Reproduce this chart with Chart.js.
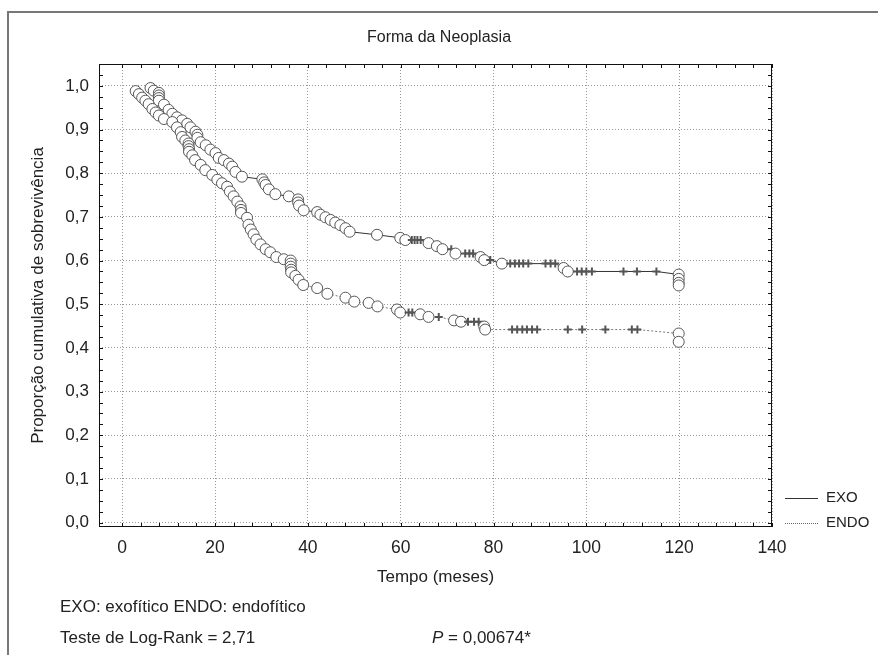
<!DOCTYPE html>
<html>
<head>
<meta charset="utf-8">
<title>Forma da Neoplasia</title>
<script src="https://cdn.jsdelivr.net/npm/chart.js@4.4.1/dist/chart.umd.min.js"></script>
<style>
    html, body { margin: 0; padding: 0; background: #fff; }
    #wrap { position: relative; width: 878px; height: 655px; overflow: hidden; font-family: 'Liberation Sans', Arial, sans-serif; color: #222; }
    #frame { position: absolute; left: 7px; top: 11px; width: 880px; height: 660px; border-left: 2px solid #777; border-top: 2px solid #777; }
    canvas { position: absolute; left: 0; top: 0; }
    #title { position: absolute; left: 0; width: 878px; top: 27px; text-align: center; font-size: 16px; line-height: 20px; }
    .note { position: absolute; left: 60px; font-size: 17px; line-height: 20px; white-space: nowrap; }
    .legend { position: absolute; left: 785px; font-size: 15px; line-height: 18px; white-space: nowrap; }
    .sample { display: inline-block; width: 33px; height: 0; vertical-align: middle; margin-right: 8px; }
</style>
</head>
<body>
<div id="wrap">
    <div id="frame"></div>
    <canvas id="km-chart" width="878" height="655"></canvas>
    <div id="title"></div>
    <div class="legend" style="top:488px"><span class="sample" style="border-top:1px solid #333"></span>EXO</div>
    <div class="legend" style="top:513px"><span class="sample" style="border-top:1px dotted #666"></span>ENDO</div>
    <div class="note" style="top:597px">EXO: exofítico ENDO: endofítico</div>
    <div class="note" style="top:628px">Teste de Log-Rank = 2,71</div>
    <div class="note" style="top:628px; left:432px"><i>P</i> = 0,00674*</div>
</div>
<script>
// chart text
const chartTitle = 'Forma da Neoplasia';
const xTitle = 'Tempo (meses)';
const yTitle = 'Proporção cumulativa de sobrevivência';

// axis ticks
const xTicks = [0, 20, 40, 60, 80, 100, 120, 140];
const yTicks = [0, 0.1, 0.2, 0.3, 0.4, 0.5, 0.6, 0.7, 0.8, 0.9, 1.0];
const xMinorStep = 4;
const yMinorStep = 0.025;

// EXO: time (months), cumulative survival, mark ('o' = event, '+' = censored)
const exoTime = [6.1, 6.8, 7.9, 7.9, 7.9, 7.9, 9.0, 10.0, 10.8, 11.8, 12.9, 14.0, 14.7, 15.8, 16.2, 16.2,
    16.9, 18.0, 19.0, 20.1, 20.8, 21.9, 23.0, 23.7, 24.4, 25.8, 30.2, 30.6, 30.9, 31.6, 33.0, 35.9,
    37.9, 37.9, 38.1, 39.1, 42.0, 42.7, 43.8, 44.9, 45.9, 47.0, 48.1, 49.0, 54.9, 59.9, 61.0,
    62.4, 63.0, 63.6, 64.3, 66.0, 67.8, 69.0, 70.9, 71.8, 73.9, 74.8, 75.6, 77.2, 78.0, 79.3, 81.8,
    83.6, 84.6, 85.5, 86.4, 87.5, 91.2, 92.3, 93.3, 95.1, 96.0, 98.0, 99.0, 100.0, 101.2,
    108.0, 110.9, 115.1, 119.9, 119.9, 119.9, 119.9];
const exoSurv = [0.995, 0.989, 0.984, 0.978, 0.972, 0.966, 0.957, 0.945, 0.936, 0.928, 0.921, 0.913, 0.905, 0.895, 0.888, 0.881,
    0.871, 0.864, 0.854, 0.846, 0.835, 0.830, 0.822, 0.815, 0.803, 0.792, 0.786, 0.779, 0.773, 0.763, 0.752, 0.747,
    0.740, 0.733, 0.726, 0.715, 0.711, 0.705, 0.699, 0.693, 0.687, 0.681, 0.674, 0.666, 0.659, 0.652, 0.647,
    0.647, 0.647, 0.647, 0.647, 0.640, 0.633, 0.626, 0.626, 0.616, 0.616, 0.616, 0.616, 0.608, 0.601, 0.601, 0.593,
    0.593, 0.593, 0.593, 0.593, 0.593, 0.593, 0.593, 0.593, 0.583, 0.575, 0.575, 0.575, 0.575, 0.575,
    0.575, 0.575, 0.575, 0.568, 0.558, 0.549, 0.543];
const exoMark = ['o', 'o', 'o', 'o', 'o', 'o', 'o', 'o', 'o', 'o', 'o', 'o', 'o', 'o', 'o', 'o',
    'o', 'o', 'o', 'o', 'o', 'o', 'o', 'o', 'o', 'o', 'o', 'o', 'o', 'o', 'o', 'o',
    'o', 'o', 'o', 'o', 'o', 'o', 'o', 'o', 'o', 'o', 'o', 'o', 'o', 'o', 'o',
    '+', '+', '+', '+', 'o', 'o', 'o', '+', 'o', '+', '+', '+', 'o', 'o', '+', 'o',
    '+', '+', '+', '+', '+', '+', '+', '+', 'o', 'o', '+', '+', '+', '+',
    '+', '+', '+', 'o', 'o', 'o', 'o'];

// ENDO
const endoTime = [2.9, 3.6, 4.3, 5.0, 5.7, 6.5, 7.2, 7.9, 9.0, 10.8, 11.8, 12.6, 12.9, 13.6, 14.3, 14.3, 14.4, 14.4,
    15.1, 15.7, 16.9, 17.9, 19.4, 20.5, 21.5, 22.6, 23.2, 24.0, 24.8, 25.5, 25.6, 25.6, 26.9,
    27.2, 27.7, 28.3, 28.9, 29.8, 30.9, 31.9, 33.2, 34.8, 36.3, 36.3, 36.3, 36.4, 36.4, 37.3, 38.0, 39.0,
    42.0, 44.2, 48.1, 50.0, 53.1, 55.0, 59.2, 59.9, 61.7, 62.5, 64.2, 66.0, 68.2, 71.5, 73.0,
    74.5, 75.8, 76.8, 78.0, 78.2, 84.0, 85.1, 86.2, 87.2, 88.3, 89.4, 96.0, 99.1, 104.1, 109.8, 111.0,
    119.9, 119.9];
const endoSurv = [0.988, 0.981, 0.973, 0.966, 0.958, 0.947, 0.939, 0.932, 0.924, 0.917, 0.905, 0.894, 0.883, 0.875, 0.868, 0.862, 0.855, 0.849,
    0.841, 0.830, 0.819, 0.807, 0.796, 0.785, 0.777, 0.769, 0.758, 0.747, 0.735, 0.724, 0.716, 0.709, 0.698,
    0.682, 0.671, 0.660, 0.648, 0.637, 0.626, 0.619, 0.608, 0.603, 0.600, 0.593, 0.586, 0.579, 0.573, 0.565, 0.556, 0.544,
    0.537, 0.524, 0.515, 0.506, 0.503, 0.495, 0.488, 0.481, 0.481, 0.481, 0.477, 0.471, 0.471, 0.463, 0.460,
    0.460, 0.460, 0.460, 0.449, 0.442, 0.442, 0.442, 0.442, 0.442, 0.442, 0.442, 0.442, 0.442, 0.442, 0.442, 0.442,
    0.433, 0.414];
const endoMark = ['o', 'o', 'o', 'o', 'o', 'o', 'o', 'o', 'o', 'o', 'o', 'o', 'o', 'o', 'o', 'o', 'o', 'o',
    'o', 'o', 'o', 'o', 'o', 'o', 'o', 'o', 'o', 'o', 'o', 'o', 'o', 'o', 'o',
    'o', 'o', 'o', 'o', 'o', 'o', 'o', 'o', 'o', 'o', 'o', 'o', 'o', 'o', 'o', 'o', 'o',
    'o', 'o', 'o', 'o', 'o', 'o', 'o', 'o', '+', '+', 'o', 'o', '+', 'o', 'o',
    '+', '+', '+', 'o', 'o', '+', '+', '+', '+', '+', '+', '+', '+', '+', '+', '+',
    'o', 'o'];

const fontFamily = "'Liberation Sans', Arial, sans-serif";

document.getElementById('title').textContent = chartTitle;

function makeCurve(label, times, surv, marks, lineColor, dash) {
    return {
        label: label,
        data: times.map((t, i) => ({ x: t, y: surv[i] })),
        showLine: true,
        tension: 0,
        borderColor: lineColor,
        borderWidth: 1,
        borderDash: dash,
        pointStyle: marks.map(m => m === '+' ? 'cross' : 'circle'),
        pointRadius: marks.map(m => m === '+' ? 4 : 5.5),
        pointBorderWidth: marks.map(m => m === '+' ? 2 : 1),
        pointBackgroundColor: '#fff',
        pointBorderColor: '#555',
        clip: false
    };
}

// plot frame with inward minor ticks on all four sides
const frameTicks = {
    id: 'frameTicks',
    beforeDatasetsDraw(chart) {
        const { ctx, chartArea: a, scales: { x, y } } = chart;
        ctx.save();
        ctx.strokeStyle = '#111';
        ctx.lineWidth = 1;
        ctx.strokeRect(a.left + 0.5, a.top + 0.5, a.right - a.left - 1, a.bottom - a.top - 1);
        ctx.beginPath();
        for (let v = 0; v <= x.max + 0.001; v += xMinorStep) {
            const px = Math.round(x.getPixelForValue(v)) + 0.5;
            ctx.moveTo(px, a.top); ctx.lineTo(px, a.top + 4);
            ctx.moveTo(px, a.bottom); ctx.lineTo(px, a.bottom - 4);
        }
        for (let i = 0; i * yMinorStep <= y.max + 0.0001; i++) {
            const py = Math.round(y.getPixelForValue(i * yMinorStep)) + 0.5;
            ctx.moveTo(a.left, py); ctx.lineTo(a.left + 4, py);
            ctx.moveTo(a.right, py); ctx.lineTo(a.right - 4, py);
        }
        ctx.stroke();
        ctx.restore();
    }
};

const ctx = document.getElementById('km-chart').getContext('2d');
new Chart(ctx, {
    type: 'scatter',
    data: {
        datasets: [
            makeCurve('ENDO', endoTime, endoSurv, endoMark, '#777', [2, 2]),
            makeCurve('EXO', exoTime, exoSurv, exoMark, '#333', [])
        ]
    },
    options: {
        responsive: false,
        animation: false,
        layout: { padding: { left: 20, top: 64, right: 106, bottom: 60 } },
        plugins: {
            legend: { display: false },
            tooltip: { enabled: false },
            title: { display: false }
        },
        scales: {
            x: {
                type: 'linear',
                min: -5,
                max: 140,
                afterBuildTicks: s => { s.ticks = xTicks.map(v => ({ value: v })); },
                afterFit: s => { s.height = 68; },
                grid: { color: '#999', drawTicks: false },
                border: { display: false, dash: [1, 2] },
                ticks: { color: '#222', font: { family: fontFamily, size: 17.5 }, padding: 11, maxRotation: 0, callback: v => String(v) },
                title: { display: true, text: xTitle, color: '#222', font: { family: fontFamily, size: 17 }, padding: { top: 0, bottom: 7 } }
            },
            y: {
                type: 'linear',
                min: -0.01,
                max: 1.05,
                afterBuildTicks: s => { s.ticks = yTicks.map(v => ({ value: v })); },
                afterFit: s => { s.width = 79; },
                grid: { color: '#999', drawTicks: false },
                border: { display: false, dash: [1, 2] },
                ticks: { color: '#222', font: { family: fontFamily, size: 17 }, padding: 10, callback: v => v.toFixed(1).replace('.', ',') },
                title: { display: true, text: yTitle, color: '#222', font: { family: fontFamily, size: 17 }, padding: { top: 8, bottom: 0 } }
            }
        }
    },
    plugins: [frameTicks]
});
</script>
</body>
</html>
